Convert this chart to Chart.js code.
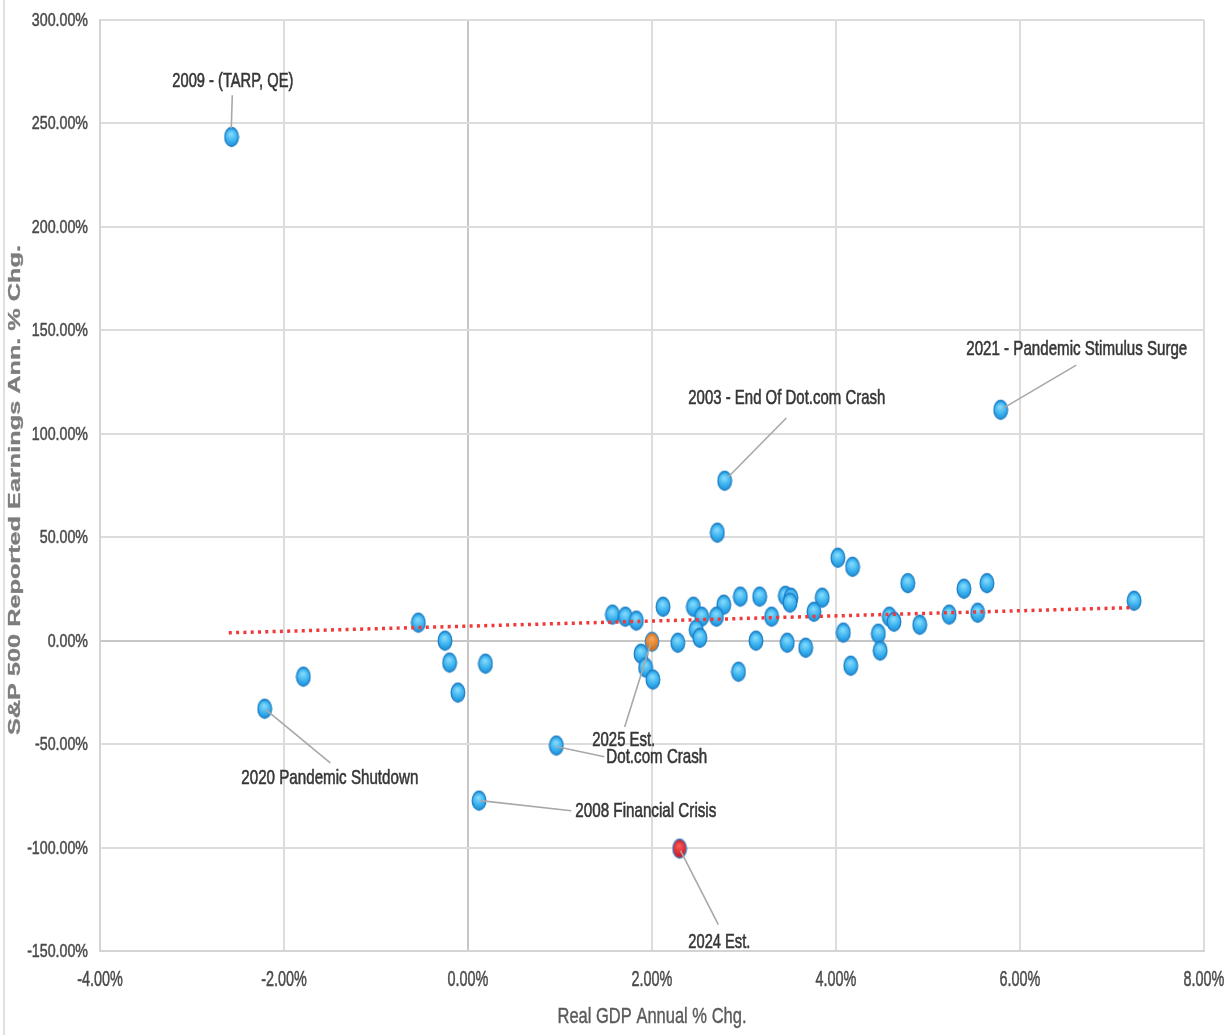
<!DOCTYPE html>
<html><head><meta charset="utf-8">
<script src="https://cdn.jsdelivr.net/npm/chart.js@4.4.1/dist/chart.umd.min.js"></script>
<style>html,body{margin:0;padding:0;background:#fff;overflow:hidden}canvas{display:block}</style>
</head><body>
<canvas id="c" width="1232" height="1035"></canvas>
<script>
// ---- data ----
const histGdp = [-2.57, 5.79, 2.79, 2.71, 4.02, 4.18, 4.78, 5.64, 5.39, 7.24,
  2.96, 3.17, 3.45, 3.51, 3.50, 3.85, 3.76, 2.12, 2.45, 2.78,
  2.54, 2.70, 3.30, 1.57, 1.71, 1.83, 4.58, 4.63, 5.23, 5.54,
  4.91, -0.54, -0.25, -0.20, -0.11, 0.19, -1.79, -2.21, 0.96, 0.12,
  1.88, 1.93, 2.01, 2.28, 2.48, 2.52, 3.13, 2.94, 3.47, 3.67,
  4.08, 4.46, 4.48, 4.16];
const histEarnings = [243.5, 111.6, 77.3, 52.2, 40.1, 35.7, 27.8, 27.8, 25.1, 19.3,
  21.3, 21.3, 21.7, 20.8, 18.4, 20.8, 14.0, 16.4, 16.4, 17.4,
  11.6, 11.6, 11.6, 12.6, 11.6, 9.7, 11.6, 9.2, 12.6, 13.5,
  7.7, 8.7, 0.0, -10.6, -25.1, -11.1, -17.4, -32.9, -50.7, -77.3,
  -6.3, -13.0, -18.8, -1.0, 5.3, 1.4, 0.0, -15.0, -1.0, -3.4,
  3.9, 3.4, -4.8, -12.1];
const est2025Gdp = [2.0];
const est2025Earnings = [-0.5];
const est2024Gdp = [2.30];
const est2024Earnings = [-100.5];
const trendGdp = [-2.6, 7.24];
const trendEarnings = [3.8, 16.0];
const xTickValues = [-4, -2, 0, 2, 4, 6, 8];
const yTickValues = [-150, -100, -50, 0, 50, 100, 150, 200, 250, 300];
const noteTexts = ['2009 - (TARP, QE)', '2021 - Pandemic Stimulus Surge', '2003 - End Of Dot.com Crash',
  '2020 Pandemic Shutdown', '2025 Est.', 'Dot.com Crash', '2008 Financial Crisis', '2024 Est.'];
const xTitle = 'Real GDP Annual % Chg.';
const yTitle = 'S&P 500 Reported Earnings Ann. % Chg.';

// ---- annotation placement (data coordinates) ----
const notePlacement = [
  {at: [-2.556, 270.4], w: 121, line: [[-2.562, 263.6], [-2.573, 247.7]]},
  {at: [6.617, 140.9], w: 221, line: [[6.612, 133.2], [5.818, 112.4]]},
  {at: [3.465, 117.0], w: 197, line: [[3.460, 107.6], [2.829, 79.1]]},
  {at: [-1.502, -66.3], w: 177, line: [[-1.497, -59.1], [-2.195, -33.5]]},
  {at: [1.693, -47.9], w: 63, line: [[1.703, -41.7], [1.985, -1.5]]},
  {at: [2.052, -56.1], w: 101, line: [[1.482, -56.1], [0.971, -51.3]]},
  {at: [1.933, -82.2], w: 141, line: [[1.123, -82.2], [0.135, -77.3]]},
  {at: [2.732, -145.6], w: 62, line: [[2.721, -137.3], [2.31, -101.5]]}
];

function toPts(xs, ys) { return xs.map((x, i) => ({x: x, y: ys[i]})); }

function makeDot(c0, c1, c2, stroke) {
  const c = document.createElement('canvas');
  c.width = 16; c.height = 22;
  const g = c.getContext('2d');
  const grad = g.createRadialGradient(7.5, 8, 1, 8, 11, 10);
  grad.addColorStop(0, c0); grad.addColorStop(0.55, c1); grad.addColorStop(1, c2);
  g.beginPath();
  g.ellipse(8, 11, 6.8, 9.5, 0, 0, Math.PI * 2);
  g.fillStyle = grad; g.fill();
  g.lineWidth = 1.3; g.strokeStyle = stroke; g.stroke();
  return c;
}
const blueDot = makeDot('#7fd8fb', '#38b0ee', '#1b8ad2', '#1f7ec4');
const orangeDot = makeDot('#f4a35a', '#e07f28', '#c4661a', '#3d8ccc');
const redDot = makeDot('#f45a5a', '#e02a30', '#b81422', '#3c7ec4');

const FONT = '"Liberation Sans", Arial, sans-serif';
function drawText(ctx, text, x, y, o) {
  ctx.save();
  ctx.font = (o.weight || 'normal') + ' ' + o.size + 'px ' + FONT;
  const w = ctx.measureText(text).width;
  const sx = o.width ? o.width / w : (o.sx || 1);
  ctx.translate(x, y);
  if (o.rotate) ctx.rotate(o.rotate);
  ctx.scale(sx, 1);
  ctx.textBaseline = 'middle';
  ctx.textAlign = o.align || 'center';
  ctx.fillStyle = o.color;
  ctx.fillText(text, 0, 0);
  if (o.thick) {
    ctx.strokeStyle = o.color;
    ctx.lineWidth = o.thick;
    ctx.strokeText(text, 0, 0);
  }
  ctx.restore();
}

const decor = {
  id: 'decor',
  beforeDraw(chart) {
    const ctx = chart.ctx;
    ctx.save();
    ctx.fillStyle = '#fff';
    ctx.fillRect(0, 0, chart.width, chart.height);
    ctx.strokeStyle = '#d6d6d6';
    ctx.lineWidth = 1.5;
    ctx.beginPath(); ctx.moveTo(4, 0); ctx.lineTo(4, chart.height); ctx.stroke();
    ctx.restore();
  },
  afterDraw(chart) {
    const ctx = chart.ctx;
    const xs = chart.scales.x, ys = chart.scales.y;
    // tick labels
    ys.ticks.forEach(t => {
      drawText(ctx, t.value.toFixed(2) + '%', 88, ys.getPixelForValue(t.value) + 1,
        {size: 18, sx: 0.79, color: '#4a4a4a', align: 'right', thick: 0.5});
    });
    xs.ticks.forEach(t => {
      drawText(ctx, t.value.toFixed(2) + '%', xs.getPixelForValue(t.value), 980,
        {size: 22, sx: 0.655, color: '#4a4a4a', thick: 0.5});
    });
    // axis titles
    drawText(ctx, xTitle, (xs.left + xs.right) / 2, 1017, {size: 22, width: 189, color: '#5a5a5a', thick: 0.4});
    drawText(ctx, yTitle, 16, 490, {size: 16, weight: 'bold', width: 490, color: '#7d7d7d', rotate: -Math.PI / 2, thick: 0.3});
    // annotations
    noteTexts.forEach((txt, i) => {
      const p = notePlacement[i];
      ctx.save();
      ctx.strokeStyle = '#a8a8a8';
      ctx.lineWidth = 1.6;
      ctx.beginPath();
      ctx.moveTo(xs.getPixelForValue(p.line[0][0]), ys.getPixelForValue(p.line[0][1]));
      ctx.lineTo(xs.getPixelForValue(p.line[1][0]), ys.getPixelForValue(p.line[1][1]));
      ctx.stroke();
      ctx.restore();
      drawText(ctx, txt, xs.getPixelForValue(p.at[0]), ys.getPixelForValue(p.at[1]),
        {size: 21, width: p.w, color: '#363636', thick: 0.6});
    });
  }
};

const gridColor = ctx => (ctx.tick && ctx.tick.value === 0) ? '#c6c6c6' : '#dcdcdc';

new Chart(document.getElementById('c'), {
  type: 'scatter',
  data: {
    datasets: [
      {label: 'Trend', type: 'line', data: toPts(trendGdp, trendEarnings), order: 0,
        borderColor: '#f03a3a', borderWidth: 3.5, borderDash: [3, 4.3], pointRadius: 0, fill: false},
      {label: 'History', data: toPts(histGdp, histEarnings), order: 2, pointStyle: blueDot, pointRadius: 8},
      {label: '2025 Est.', data: toPts(est2025Gdp, est2025Earnings), order: 1, pointStyle: orangeDot, pointRadius: 8},
      {label: '2024 Est.', data: toPts(est2024Gdp, est2024Earnings), order: 1, pointStyle: redDot, pointRadius: 8}
    ]
  },
  options: {
    responsive: false,
    animation: false,
    devicePixelRatio: 1,
    layout: {padding: {top: 20, right: 28, left: 0, bottom: 0}},
    plugins: {legend: {display: false}, tooltip: {enabled: false}},
    scales: {
      x: {
        type: 'linear', min: xTickValues[0], max: xTickValues[xTickValues.length - 1],
        afterBuildTicks: s => { s.ticks = xTickValues.map(v => ({value: v})); },
        ticks: {display: false},
        grid: {color: gridColor, lineWidth: 2, drawTicks: false},
        border: {display: true, color: '#d4d4d4', width: 2},
        afterFit: s => { s.height = 84; }
      },
      y: {
        type: 'linear', min: yTickValues[0], max: yTickValues[yTickValues.length - 1],
        afterBuildTicks: s => { s.ticks = yTickValues.map(v => ({value: v})); },
        ticks: {display: false},
        grid: {color: gridColor, lineWidth: 2, drawTicks: false},
        border: {display: true, color: '#d4d4d4', width: 2},
        afterFit: s => { s.width = 100; }
      }
    }
  },
  plugins: [decor]
});
</script>
</body></html>
